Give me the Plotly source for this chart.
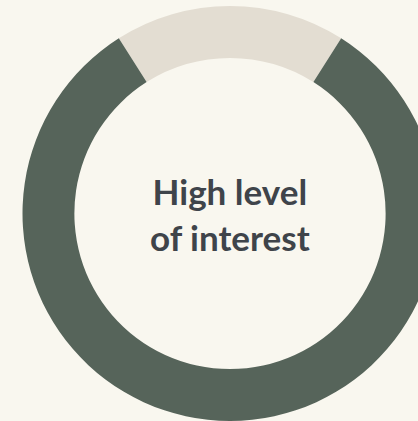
import plotly.graph_objects as go

# share of respondents
labels = ['Low level of interest', 'High level of interest']
values = [18, 82]
colors = ['#e3ddd2', '#56645a']

donut = go.Pie(
    labels=labels,
    values=values,
    hole=0.75,
    sort=False,
    direction='clockwise',
    rotation=-32.4,
    textinfo='none',
    hoverinfo='label+percent',
    marker=dict(colors=colors, line=dict(width=0)),
    showlegend=False,
    domain=dict(x=[0, 1], y=[0, 1]),
)

fig = go.Figure(donut)
fig.update_layout(
    width=460,
    height=421,
    margin=dict(l=0, r=0, t=6, b=0),
    paper_bgcolor='#f9f7ef',
    plot_bgcolor='#f9f7ef',
    annotations=[dict(
        text='High level<br>of interest',
        x=0.5, y=0.5, xref='paper', yref='paper',
        showarrow=False,
        font=dict(family='Lato', size=35, color='#3f444a', weight='bold'),
    )],
)

# drop the browser's default page margin so the chart sits flush
fig.write_html(
    'out.html',
    config={'displayModeBar': False},
    post_script="document.body.style.margin='0';document.body.style.overflow='hidden';",
)
